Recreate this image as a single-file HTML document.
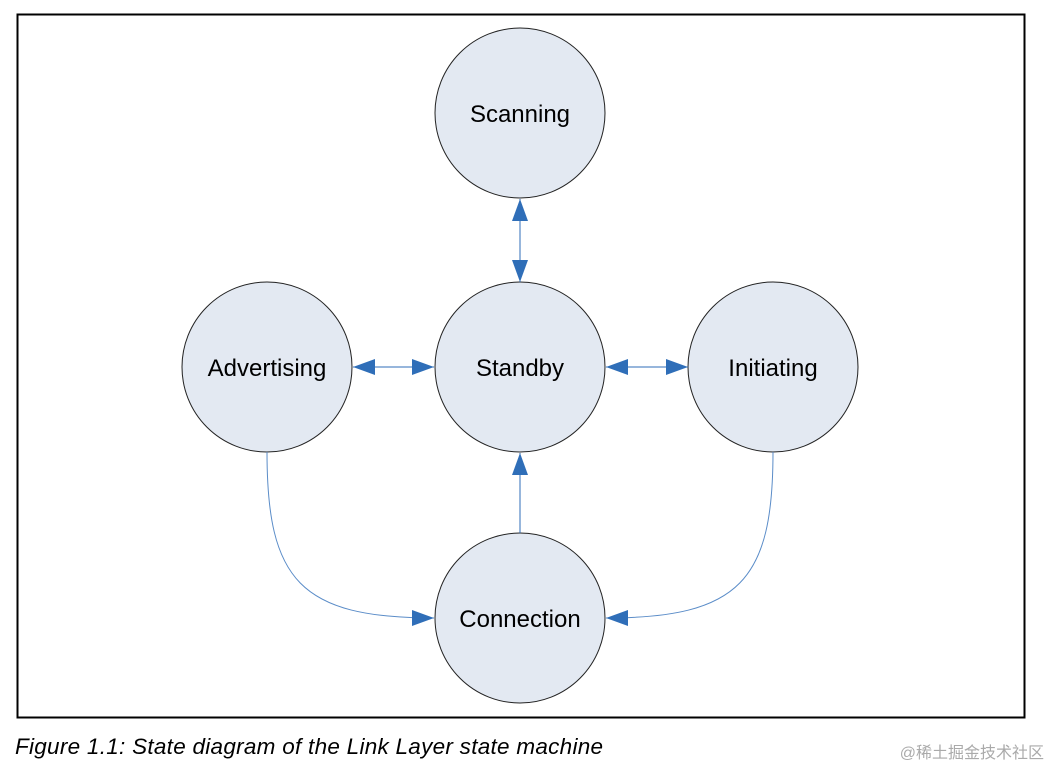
<!DOCTYPE html>
<html><head><meta charset="utf-8"><style>
body{margin:0;background:#fff;width:1052px;height:770px;overflow:hidden}
</style></head><body>
<svg width="1052" height="770" xmlns="http://www.w3.org/2000/svg" style="position:absolute;left:0;top:0">
<defs><marker id="a" markerWidth="22" markerHeight="16" refX="22" refY="8" orient="auto" markerUnits="userSpaceOnUse"><path d="M0,0L22,8L0,16Z" fill="#2f6eb8"/></marker></defs>
<rect x="17.5" y="14.5" width="1007" height="703" fill="none" stroke="#000" stroke-width="2"/>
<g fill="#e3e9f2" stroke="#222" stroke-width="1">
<circle cx="520" cy="113" r="85"/>
<circle cx="520" cy="367" r="85"/>
<circle cx="267" cy="367" r="85"/>
<circle cx="773" cy="367" r="85"/>
<circle cx="520" cy="618" r="85"/>
</g>
<g stroke="#2f6eb8" stroke-width="1" fill="none">
<path d="M520,240L520,199" marker-end="url(#a)"/>
<path d="M520,240L520,282" marker-end="url(#a)"/>
<path d="M393,367L353,367" marker-end="url(#a)"/>
<path d="M393,367L434,367" marker-end="url(#a)"/>
<path d="M647,367L606,367" marker-end="url(#a)"/>
<path d="M647,367L688,367" marker-end="url(#a)"/>
<path d="M520,533L520,453" marker-end="url(#a)"/>
<path d="M267,452C267,580 300,618 434,618" marker-end="url(#a)" stroke="#5a8cc8"/>
<path d="M773,452C773,580 740,618 606,618" marker-end="url(#a)" stroke="#5a8cc8"/>
</g>
<g font-family="Liberation Sans, sans-serif" font-size="24" text-anchor="middle" fill="#000">
<text x="520" y="122">Scanning</text>
<text x="520" y="376">Standby</text>
<text x="267" y="376">Advertising</text>
<text x="773" y="376">Initiating</text>
<text x="520" y="627">Connection</text>
</g>
<text x="15" y="754" font-family="Liberation Sans, sans-serif" font-size="22.5" font-style="italic" textLength="588">Figure 1.1: State diagram of the Link Layer state machine</text>
<text x="1044" y="758" text-anchor="end" font-family="Liberation Sans, 'Noto Sans CJK SC', sans-serif" font-size="16" fill="#aaa">@稀土掘金技术社区</text>
</svg>
</body></html>
